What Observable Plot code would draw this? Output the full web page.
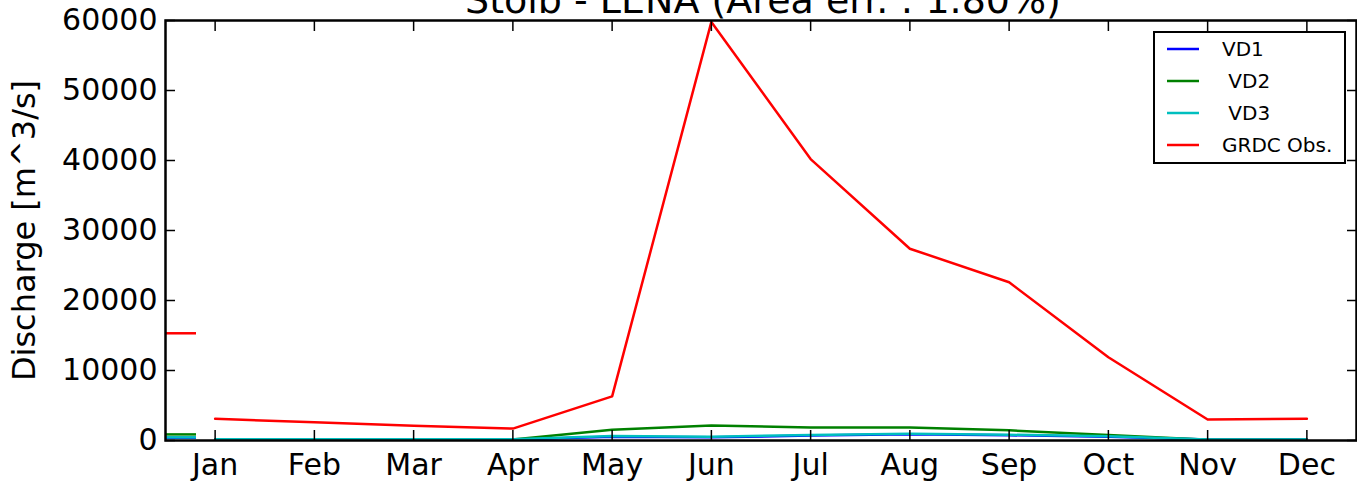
<!DOCTYPE html>
<html>
<head>
<meta charset="utf-8">
<script src="https://cdn.jsdelivr.net/npm/d3@7"></script>
<script src="https://cdn.jsdelivr.net/npm/@observablehq/plot@0.6"></script>
<style>
  html, body { margin: 0; padding: 0; background: #fff; }
  #wrap { position: relative; width: 1357px; height: 482px; overflow: hidden; font-family: "DejaVu Sans", sans-serif; }
  #legend { position: absolute; left: 1153px; top: 31px; width: 189px; height: 129px; border: 2px solid #000; background: #fff; }
</style>
</head>
<body>
<div id="wrap"><div id="chart"></div><div id="legend"></div></div>
<script>
const title = "Stolb - LENA (Area err. : 1.80%)";
const yLabel = "Discharge [m^3/s]";
const months = ["Jan","Feb","Mar","Apr","May","Jun","Jul","Aug","Sep","Oct","Nov","Dec"];
const monthIdx = [1,2,3,4,5,6,7,8,9,10,11,12];
const yTicks = [0,10000,20000,30000,40000,50000,60000];
const seriesNames = ["VD1"," VD2"," VD3","GRDC Obs."];
const seriesColors = ["#0000ff","#008000","#00bfbf","#ff0000"];
const vd1 = [150,150,150,150,550,450,700,900,750,550,150,150];
const vd2 = [150,150,150,150,1550,2150,1850,1850,1450,800,100,100];
const vd3 = [180,180,180,180,650,550,780,950,820,620,150,150];
const grdc = [3100,2600,2100,1700,6300,59800,40200,27400,22600,11900,3000,3100];
const allSeries = [vd1, vd2, vd3, grdc];

const W = 1357, H = 482;
const mL = 165, mR = 1, mT = 20, mB = 42;

const lineMarks = allSeries.map((vals, s) =>
  Plot.line(monthIdx.map((m, i) => ({m, v: vals[i]})), {x: "m", y: "v", stroke: seriesColors[s], strokeWidth: 2.5})
);
const meanMarks = allSeries.map((vals, s) =>
  Plot.ruleY([d3.mean(vals)], {stroke: seriesColors[s], strokeWidth: 2.5, insetRight: (W - mL - mR) - 31})
);

const chart = Plot.plot({
  width: W, height: H,
  marginLeft: mL, marginRight: mR, marginTop: mT, marginBottom: mB,
  style: {fontFamily: "DejaVu Sans, sans-serif", color: "#000", background: "#fff", overflow: "hidden"},
  x: {type: "linear", domain: [0.5, 12.5]},
  y: {domain: [0, 60000]},
  marks: [
    ...lineMarks,
    ...meanMarks,
    Plot.axisX({anchor: "bottom", ticks: monthIdx, tickSize: -10, tickPadding: 23, tickFormat: d => months[d - 1], fontSize: 30, label: null, strokeWidth: 1.5}),
    Plot.axisX({anchor: "top", ticks: monthIdx, tickSize: -10, tickFormat: () => "", label: null, strokeWidth: 1.5}),
    Plot.axisY({anchor: "left", ticks: yTicks, tickSize: -10, tickPadding: 18, tickFormat: d => String(d), fontSize: 30, label: null, strokeWidth: 1.5}),
    Plot.axisY({anchor: "left", ticks: yTicks, tickSize: 0, tickFormat: () => "", fontSize: 32, label: yLabel, labelAnchor: "center", labelArrow: "none", labelOffset: 153}),
    Plot.axisY({anchor: "right", ticks: yTicks, tickSize: -10, tickFormat: () => "", label: null, strokeWidth: 1.5}),
    Plot.frame({stroke: "#000", strokeWidth: 2.5}),
    Plot.text([title], {text: d => d, frameAnchor: "top", dx: 2, dy: -8, lineAnchor: "bottom", fontSize: 38, fill: "#000"})
  ]
});
document.getElementById("chart").appendChild(chart);

// Legend
const leg = d3.select("#legend").append("svg").attr("width", 189).attr("height", 129)
  .style("font-family", "DejaVu Sans, sans-serif");
seriesNames.forEach((name, i) => {
  const cy = 16 + i * 32;
  leg.append("line").attr("x1", 12).attr("x2", 44).attr("y1", cy).attr("y2", cy)
    .attr("stroke", seriesColors[i]).attr("stroke-width", 2.5);
  leg.append("text").attr("x", 67).attr("y", cy).attr("dy", "0.35em")
    .attr("font-size", 20).attr("fill", "#000").attr("xml:space", "preserve")
    .style("white-space", "pre").text(name);
});
</script>
</body>
</html>
